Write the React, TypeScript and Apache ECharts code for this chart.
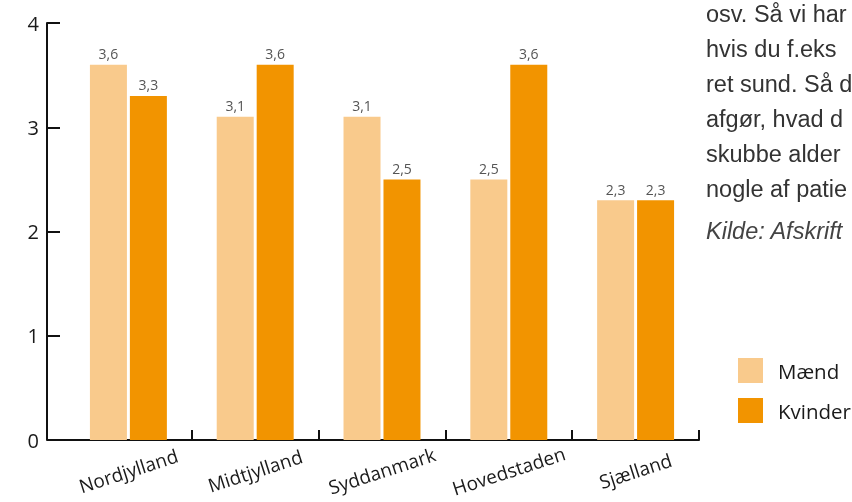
import React, { useEffect, useRef } from "react";
import * as echarts from "echarts";

const categories = ["Nordjylland", "Midtjylland", "Syddanmark", "Hovedstaden", "Sjælland"];
const maend = [3.6, 3.1, 3.1, 2.5, 2.3];
const kvinder = [3.3, 3.6, 2.5, 3.6, 2.3];
const seriesNames = ["Mænd", "Kvinder"];
const yTicks = [0, 1, 2, 3, 4];
const sideText = [
  "osv. Så vi har",
  "hvis du f.eks",
  "ret sund. Så d",
  "afgør, hvad d",
  "skubbe alder",
  "nogle af patie",
];
const sourceText = "Kilde: Afskrift";

const LIGHT = "#F9CA8C";
const DARK = "#F29400";

export default function App() {
  const ref = useRef<HTMLDivElement>(null);
  useEffect(() => {
    if (!ref.current) return;
    const chart = echarts.init(ref.current, undefined, { renderer: "svg" });
    const labelCfg = {
      show: true,
      position: "top",
      distance: 4,
      color: "#555",
      fontSize: 14,
      fontFamily: "Open Sans",
      formatter: (p: any) => String(p.value).replace(".", ","),
    };
    const textGraphics: any[] = sideText.map((t, i) => ({
      type: "text",
      left: 706,
      top: 2 + i * 35,
      style: { text: t, fill: "#333", font: "23.5px 'Liberation Sans', Arial, sans-serif" },
    }));
    textGraphics.push({
      type: "text",
      left: 706,
      top: 219,
      style: { text: sourceText, fill: "#444", font: "italic 23.5px 'Liberation Sans', Arial, sans-serif" },
    });
    textGraphics.push({
      type: "line",
      shape: { x1: 47, y1: 440, x2: 66, y2: 440 },
      style: { stroke: "#111", lineWidth: 2 },
    });
    chart.setOption({
      animation: false,
      grid: { left: 65, right: 153, top: 23, bottom: 62, containLabel: false },
      legend: {
        data: seriesNames,
        orient: "vertical",
        left: 738,
        top: 358,
        padding: 0,
        itemWidth: 25,
        itemHeight: 25,
        itemGap: 15,
        icon: "rect",
        textStyle: { fontSize: 20.5, color: "#1a1a1a", fontFamily: "Open Sans", padding: [0, 0, 0, 10] },
      },
      xAxis: {
        type: "category",
        data: categories,
        axisLine: { show: true, lineStyle: { color: "#111", width: 2 } },
        axisTick: {
          show: true,
          inside: true,
          length: 10,
          interval: (i: number) => i > 0,
          lineStyle: { color: "#111", width: 2 },
        },
        axisLabel: {
          rotate: 18,
          align: "center",
          verticalAlign: "middle",
          margin: 31,
          fontSize: 19,
          color: "#1a1a1a",
          fontFamily: "Open Sans",
          interval: 0,
        },
      },
      yAxis: {
        type: "value",
        min: yTicks[0],
        max: yTicks[yTicks.length - 1],
        interval: 1,
        offset: 18,
        splitLine: { show: false },
        axisLine: { show: true, lineStyle: { color: "#111", width: 2 } },
        axisTick: { show: true, inside: true, length: 13, lineStyle: { color: "#111", width: 2 } },
        axisLabel: { fontSize: 20, color: "#1a1a1a", fontFamily: "Open Sans", margin: 8 },
      },
      series: [
        {
          name: seriesNames[0],
          type: "bar",
          data: maend,
          barWidth: 37,
          barGap: "8%",
          itemStyle: { color: LIGHT },
          label: labelCfg,
        },
        {
          name: seriesNames[1],
          type: "bar",
          data: kvinder,
          barWidth: 37,
          barGap: "8%",
          itemStyle: { color: DARK },
          label: labelCfg,
        },
      ],
      graphic: textGraphics,
    });
    return () => chart.dispose();
  }, []);
  return <div ref={ref} style={{ width: 852, height: 502, position: "fixed", left: 0, top: 0 }} />;
}
